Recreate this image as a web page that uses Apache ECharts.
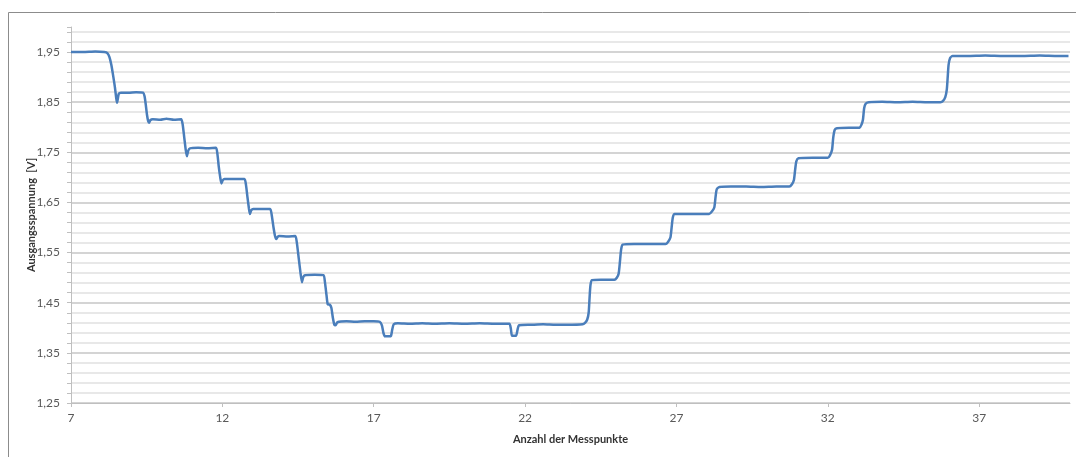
<!DOCTYPE html>
<html>
<head>
    <meta charset="utf-8">
    <title>Ausgangsspannung</title>
    <script src="https://cdn.jsdelivr.net/npm/echarts@6/dist/echarts.min.js"></script>
    <style>
        html, body { margin: 0; padding: 0; background: #fff; }
        #main { width: 1076px; height: 457px; }
    </style>
</head>
<body>
<div id="main"></div>
<script type="text/javascript">
    // Messpunkte (x) und Ausgangsspannung in V (y)
    var xValues = [
        7.00, 7.40, 7.80, 8.10, 8.20, 8.27, 8.33, 8.40, 8.45, 8.49, 8.52, 8.55, 8.58, 8.65, 8.90, 9.15, 9.38,
        9.43, 9.47, 9.51, 9.55, 9.58, 9.62, 9.70, 9.95, 10.15, 10.40, 10.64,
        10.69, 10.74, 10.79, 10.83, 10.87, 10.93, 11.20, 11.50, 11.79,
        11.84, 11.88, 11.93, 11.97, 12.01, 12.07, 12.40, 12.73,
        12.78, 12.83, 12.88, 12.91, 12.95, 13.02, 13.30, 13.58,
        13.63, 13.69, 13.74, 13.78, 13.82, 13.88, 14.15, 14.41,
        14.46, 14.52, 14.58, 14.63, 14.67, 14.73, 15.05, 15.34,
        15.39, 15.44, 15.48, 15.55, 15.60, 15.65, 15.70, 15.74, 15.80, 16.10, 16.40, 16.70, 17.00, 17.20,
        17.27, 17.32, 17.37, 17.50, 17.57, 17.61, 17.66, 17.80, 18.20, 18.60, 19.00, 19.50, 20.00, 20.50, 21.00, 21.48,
        21.53, 21.57, 21.70, 21.75, 21.80, 22.20, 22.60, 23.00, 23.40, 23.90,
        23.98, 24.05, 24.10, 24.13, 24.16, 24.21, 24.50, 24.95,
        25.03, 25.09, 25.13, 25.17, 25.22, 25.60, 26.10, 26.64,
        26.72, 26.80, 26.84, 26.88, 26.94, 27.40, 28.08,
        28.17, 28.25, 28.29, 28.33, 28.42, 28.80, 29.30, 29.80, 30.30, 30.73,
        30.81, 30.88, 30.92, 30.96, 31.03, 31.50, 32.00,
        32.07, 32.14, 32.18, 32.23, 32.30, 32.70, 33.05,
        33.11, 33.16, 33.20, 33.25, 33.35, 33.80, 34.30, 34.80, 35.30, 35.72,
        35.80, 35.88, 35.93, 35.96, 35.99, 36.04, 36.12, 36.60, 37.20, 37.80, 38.40, 39.00, 39.60, 39.95
    ];
    var yValues = [
        1.950, 1.950, 1.951, 1.950, 1.948, 1.940, 1.925, 1.900, 1.880, 1.860, 1.849, 1.858, 1.867, 1.869, 1.869, 1.870, 1.869,
        1.862, 1.845, 1.825, 1.812, 1.809, 1.814, 1.816, 1.815, 1.817, 1.815, 1.816,
        1.805, 1.780, 1.755, 1.742, 1.753, 1.758, 1.759, 1.758, 1.759,
        1.745, 1.722, 1.700, 1.688, 1.694, 1.697, 1.697, 1.697,
        1.685, 1.660, 1.637, 1.627, 1.634, 1.637, 1.637, 1.637,
        1.625, 1.600, 1.583, 1.577, 1.581, 1.583, 1.582, 1.583,
        1.570, 1.540, 1.510, 1.491, 1.501, 1.505, 1.506, 1.505,
        1.490, 1.465, 1.447, 1.446, 1.440, 1.420, 1.406, 1.405, 1.411, 1.413, 1.412, 1.413, 1.413, 1.412,
        1.405, 1.390, 1.383, 1.383, 1.384, 1.396, 1.407, 1.409, 1.408, 1.409, 1.408, 1.409, 1.408, 1.409, 1.408, 1.408,
        1.398, 1.384, 1.384, 1.396, 1.405, 1.406, 1.407, 1.406, 1.406, 1.407,
        1.410, 1.416, 1.430, 1.460, 1.485, 1.495, 1.496, 1.496,
        1.500, 1.508, 1.530, 1.555, 1.566, 1.567, 1.567, 1.567,
        1.571, 1.580, 1.600, 1.620, 1.627, 1.627, 1.627,
        1.632, 1.640, 1.660, 1.676, 1.681, 1.682, 1.682, 1.681, 1.682, 1.682,
        1.686, 1.695, 1.715, 1.732, 1.738, 1.739, 1.739,
        1.744, 1.755, 1.780, 1.795, 1.798, 1.799, 1.799,
        1.805, 1.815, 1.838, 1.847, 1.850, 1.851, 1.850, 1.851, 1.850, 1.850,
        1.852, 1.860, 1.875, 1.900, 1.925, 1.938, 1.942, 1.942, 1.943, 1.942, 1.942, 1.943, 1.942, 1.942
    ];
    var xTicks = [7, 12, 17, 22, 27, 32, 37];
    var yTicks = [1.25, 1.35, 1.45, 1.55, 1.65, 1.75, 1.85, 1.95];

    var points = [];
    for (var i = 0; i < xValues.length; i++) {
        points.push([xValues[i], yValues[i]]);
    }

    function isMajor(v) {
        return Math.abs(Math.round((v - 1.25) * 100)) % 10 === 0;
    }

    var myChart = echarts.init(document.getElementById('main'));
    var labelFont = 'Lato, "Liberation Sans", sans-serif';
    var option = {
        animation: false,
        backgroundColor: '#ffffff',
        graphic: [{
            type: 'rect',
            shape: { x: 8.5, y: 12.5, width: 1100, height: 500 },
            style: { fill: 'none', stroke: '#8c8c8c', lineWidth: 1 },
            silent: true
        }],
        grid: { left: 71, right: 6, top: 27, bottom: 54 },
        xAxis: {
            type: 'value',
            min: 7,
            max: 40,
            name: 'Anzahl der Messpunkte',
            nameLocation: 'middle',
            nameGap: 31,
            nameTextStyle: { fontFamily: labelFont, fontWeight: 'bold', fontSize: 11, color: '#333333' },
            axisLine: { lineStyle: { color: '#bfbfbf', width: 1 } },
            axisTick: { customValues: xTicks, length: 4, lineStyle: { color: '#bfbfbf' } },
            axisLabel: { customValues: xTicks, margin: 9, fontFamily: labelFont, fontSize: 12, color: '#595959' },
            splitLine: { show: false }
        },
        yAxis: {
            type: 'value',
            min: 1.25,
            max: 2.0,
            interval: 0.02,
            name: 'Ausgangsspannung  [V]',
            nameLocation: 'middle',
            nameRotate: 90,
            nameGap: 34,
            nameMoveOverlap: false,
            nameTextStyle: { fontFamily: labelFont, fontWeight: 'bold', fontSize: 11, color: '#333333' },
            axisLine: { show: true, lineStyle: { color: '#bfbfbf', width: 1 } },
            axisTick: {
                show: true,
                length: 4,
                lineStyle: { color: '#bfbfbf' },
                interval: function (index, value) { return isMajor(+value); }
            },
            axisLabel: {
                margin: 11,
                fontFamily: labelFont,
                fontSize: 12,
                color: '#595959',
                formatter: function (v) {
                    return isMajor(v) && yTicks.indexOf(Math.round(v * 100) / 100) >= 0 ? v.toFixed(2).replace('.', ',') : '';
                }
            },
            splitLine: {
                show: true,
                showMaxLine: false,
                lineStyle: { color: ['#c6c6c6', '#e0e0e0', '#e0e0e0', '#e0e0e0', '#e0e0e0'], width: 1.5 }
            }
        },
        series: [{
            type: 'line',
            data: points,
            showSymbol: false,
            smooth: 0.2,
            lineStyle: { color: '#4a7ebb', width: 2.5 },
            z: 3
        }]
    };
    myChart.setOption(option);
</script>
</body>
</html>
